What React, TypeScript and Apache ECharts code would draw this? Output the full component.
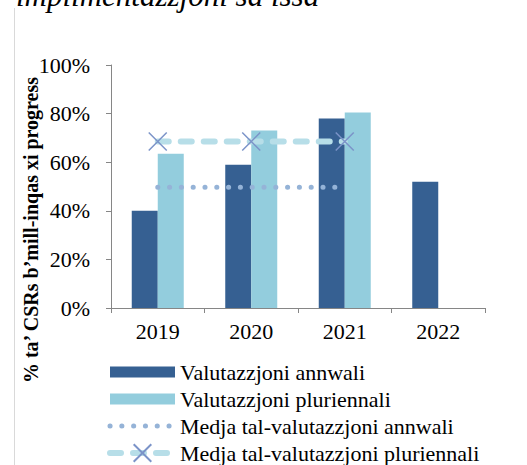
import React, { useEffect, useRef } from "react";
import * as echarts from "echarts";

const categories = ["2019", "2020", "2021", "2022"];
const annualValues = [40, 59, 78, 52];
const multiYearValues = [63.5, 73, 80.5, null];
const annualAverage = [49.7, 49.7, 49.7, null];
const multiYearAverage = [68.5, 68.5, 68.5, null];
const yTickLabels = ["0%", "20%", "40%", "60%", "80%", "100%"];
const seriesNames = [
  "Valutazzjoni annwali",
  "Valutazzjoni pluriennali",
  "Medja tal-valutazzjoni annwali",
  "Medja tal-valutazzjoni pluriennali",
];
const titleText = "implimentazzjoni sa issa";
const yAxisTitle = "% ta’ CSRs b’mill-inqas xi progress";

const FONT = '"Liberation Serif", "Times New Roman", serif';
const AXIS_GREY = "#868686";

export default function App() {
  const ref = useRef<HTMLDivElement>(null);

  useEffect(() => {
    if (!ref.current) return;
    const chart = echarts.init(ref.current, null, { renderer: "svg" });
    const rectIcon = "path://M0,0h65v11h-65z";
    const dottedStyle = { color: "#95b3d7", width: 5, type: [0.1, 11.7], cap: "round" };
    const dashedStyle = { color: "#b7dee8", width: 6, type: [11, 12], cap: "round" };
    chart.setOption({
      animation: false,
      backgroundColor: "#ffffff",
      textStyle: { fontFamily: FONT },
      grid: { left: 111, right: 42, top: 65, bottom: 157, containLabel: false },
      xAxis: {
        type: "category",
        data: categories,
        boundaryGap: true,
        axisLine: { lineStyle: { color: AXIS_GREY, width: 1 } },
        axisTick: { show: true, length: 5, lineStyle: { color: AXIS_GREY } },
        axisLabel: { color: "#000", fontSize: 22, fontFamily: FONT, margin: 12 },
        splitLine: { show: false },
      },
      yAxis: {
        type: "value",
        min: 0,
        max: 100,
        interval: 20,
        axisLine: { show: true, lineStyle: { color: AXIS_GREY, width: 1 } },
        axisTick: { show: true, length: 5, lineStyle: { color: AXIS_GREY } },
        axisLabel: {
          color: "#000",
          fontSize: 22,
          fontFamily: FONT,
          margin: 21,
          formatter: (v: number) => yTickLabels[Math.round(v / 20)] ?? `${v}%`,
        },
        splitLine: { show: false },
      },
      legend: {
        orient: "vertical",
        left: 107,
        top: 361,
        height: 120,
        itemWidth: 65,
        itemHeight: 22,
        itemGap: 5,
        padding: 0,
        selectedMode: false,
        lineStyle: { width: "inherit" },
        textStyle: { fontFamily: FONT, fontSize: 22, color: "#000" },
        data: [
          { name: seriesNames[0], icon: rectIcon },
          { name: seriesNames[1], icon: rectIcon },
          {
            name: seriesNames[2],
            itemStyle: { color: "rgba(0,0,0,0)", borderWidth: 0, opacity: 0 },
            lineStyle: dottedStyle,
          },
          { name: seriesNames[3], lineStyle: dashedStyle },
        ],
      },
      series: [
        {
          name: seriesNames[0],
          type: "bar",
          data: annualValues,
          barWidth: 26,
          barGap: "0%",
          itemStyle: { color: "#366092" },
        },
        {
          name: seriesNames[1],
          type: "bar",
          data: multiYearValues,
          barWidth: 26,
          barGap: "0%",
          itemStyle: { color: "#93cddd" },
        },
        {
          name: seriesNames[2],
          type: "line",
          data: annualAverage,
          symbol: "none",
          lineStyle: dottedStyle,
          itemStyle: { color: "#95b3d7" },
        },
        {
          name: seriesNames[3],
          type: "line",
          data: multiYearAverage,
          symbol: "path://M0,0L10,10M10,0L0,10",
          symbolSize: 18,
          showSymbol: true,
          lineStyle: dashedStyle,
          itemStyle: { color: "#7b93c8", borderColor: "#7b93c8", borderWidth: 1.5 },
        },
      ],
      graphic: [
        {
          type: "line",
          shape: { x1: 14.5, y1: 8, x2: 14.5, y2: 465 },
          style: { stroke: "#d9d9d9", lineWidth: 1 },
        },
        {
          type: "text",
          x: 16,
          y: -5,
          style: {
            text: titleText,
            font: `italic 31px ${FONT}`,
            fill: "#000",
            textAlign: "left",
            textVerticalAlign: "middle",
          },
        },
        {
          type: "text",
          x: 31,
          y: 230,
          rotation: Math.PI / 2,
          style: {
            text: yAxisTitle,
            font: `bold 20px ${FONT}`,
            fill: "#000",
            textAlign: "center",
            textVerticalAlign: "middle",
          },
        },
      ],
    });
    return () => chart.dispose();
  }, []);

  return (
    <div
      ref={ref}
      style={{ position: "absolute", left: 0, top: 0, width: 527, height: 465 }}
    />
  );
}
